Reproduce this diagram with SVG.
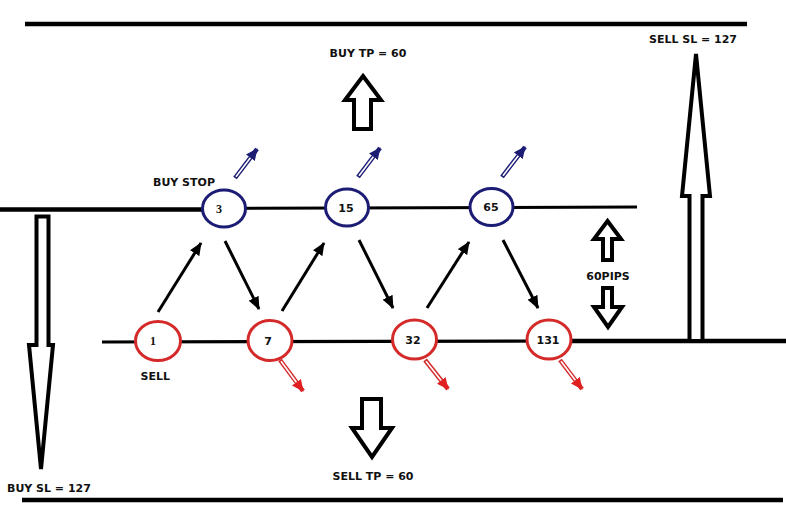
<svg xmlns="http://www.w3.org/2000/svg" width="786" height="524" viewBox="0 0 786 524">
<style>
.lbl{font-family:"DejaVu Sans","Liberation Sans",sans-serif;font-weight:bold;font-size:11px;fill:#111}
.num{font-family:"DejaVu Sans","Liberation Sans",sans-serif;font-weight:bold;font-size:11px;fill:#111;text-anchor:middle}
.numS{font-family:"Liberation Serif","DejaVu Serif",serif;font-weight:bold;font-size:12px;fill:#111;text-anchor:middle}
.rule{stroke:#000;fill:none}
.blk{fill:#fff;stroke:#000;stroke-width:4;stroke-linejoin:miter}
.buy{fill:#fff;stroke:#1c1c74;stroke-width:3}
.sell{fill:#fff;stroke:#d42a2a;stroke-width:3}
.conn{stroke:#000;stroke-width:3;fill:none;marker-end:url(#ah)}
.bOut{stroke:#1c1c74;stroke-width:4.5;marker-end:url(#hb)}
.rOut{stroke:#d42a2a;stroke-width:4.5;marker-end:url(#hr)}
.inn{stroke:#fff;stroke-width:1.6}
</style>
<defs>
<marker id="ah" markerUnits="userSpaceOnUse" markerWidth="13" markerHeight="12" viewBox="0 0 13 12" refX="12" refY="6" orient="auto"><path d="M0,0.5 L13,6 L0,11.5 z" fill="#000"/></marker>
<marker id="hb" markerUnits="userSpaceOnUse" markerWidth="12" markerHeight="11" viewBox="0 0 12 11" refX="11" refY="5.5" orient="auto"><path d="M0,0 L12,5.5 L0,11 z" fill="#1c1c74"/></marker>
<marker id="hr" markerUnits="userSpaceOnUse" markerWidth="12" markerHeight="11" viewBox="0 0 12 11" refX="11" refY="5.5" orient="auto"><path d="M0,0 L12,5.5 L0,11 z" fill="#e02020"/></marker>
</defs>
<rect width="786" height="524" fill="#fff"/>

<g id="levels">
<line class="rule" x1="25" y1="24" x2="747" y2="24" stroke-width="4.5"/>
<line class="rule" x1="22" y1="500" x2="783" y2="500" stroke-width="4.5"/>
<line class="rule" x1="0" y1="209.5" x2="210" y2="209.5" stroke-width="4.5"/>
<line class="rule" x1="210" y1="208.5" x2="637" y2="207" stroke-width="3"/>
<line class="rule" x1="102" y1="342" x2="560" y2="341" stroke-width="3.2"/>
<line class="rule" x1="560" y1="341" x2="786" y2="341" stroke-width="4.5"/>
</g>

<g id="block-arrows">
<polygon id="buy-tp-arrow" class="blk" points="363,76 381,100 371,100 371,129 354,129 354,100 345,100"/>
<polygon id="sell-tp-arrow" class="blk" points="362,399 381,399 381,428 392,428 372,457 352,428 362,428"/>
<polygon id="pips-up" class="blk" points="607.5,221 621,239 612,239 612,260 603,260 603,239 594,239"/>
<polygon id="pips-down" class="blk" points="603,288 612,288 612,307 622,307 608,327 594,307 603,307"/>
<polygon id="sell-sl-arrow" class="blk" points="696,54 710,196 702.5,196 702.5,341 689.5,341 689.5,196 682,196"/>
<polygon id="buy-sl-arrow" class="blk" points="36.5,216.5 48.5,216.5 48.5,345 53,345 41,469 29,345 36.5,345"/>
</g>

<g id="connectors">
<line class="conn" x1="158" y1="312" x2="201" y2="243"/>
<line class="conn" x1="225" y1="241" x2="259" y2="309"/>
<line class="conn" x1="282" y1="311" x2="324" y2="243"/>
<line class="conn" x1="359" y1="240" x2="393" y2="308"/>
<line class="conn" x1="427" y1="308" x2="469" y2="242"/>
<line class="conn" x1="503" y1="240" x2="538" y2="308"/>
</g>

<g id="order-arrows">
<line class="bOut" x1="235" y1="178" x2="257" y2="149"/><line class="inn" x1="236" y1="176.7" x2="250.4" y2="157.8"/>
<line class="bOut" x1="358" y1="177" x2="380" y2="148"/><line class="inn" x1="359" y1="175.7" x2="373.4" y2="156.8"/>
<line class="bOut" x1="502" y1="177" x2="525" y2="147"/><line class="inn" x1="503" y1="175.7" x2="518.3" y2="155.7"/>
<line class="rOut" x1="280" y1="360" x2="303" y2="391"/><line class="inn" x1="281" y1="361.3" x2="296.4" y2="382.2"/>
<line class="rOut" x1="425" y1="360" x2="448" y2="389"/><line class="inn" x1="426" y1="361.3" x2="441.2" y2="380.4"/>
<line class="rOut" x1="560" y1="360" x2="582" y2="389"/><line class="inn" x1="561" y1="361.3" x2="575.4" y2="380.2"/>
</g>

<g id="node-3"><ellipse class="buy" cx="224" cy="208.5" rx="21.5" ry="18.5"/><text class="numS" x="219" y="213">3</text></g>
<g id="node-15"><ellipse class="buy" cx="347" cy="207.5" rx="21.5" ry="18.5"/><text class="num" x="346" y="211.5">15</text></g>
<g id="node-65"><ellipse class="buy" cx="491.5" cy="207" rx="21.5" ry="18.5"/><text class="num" x="491" y="211">65</text></g>
<g id="node-1"><ellipse class="sell" cx="158" cy="341" rx="22.5" ry="19.5"/><text class="numS" x="153" y="345">1</text></g>
<g id="node-7"><ellipse class="sell" cx="270" cy="340.5" rx="22" ry="20"/><text class="num" x="268" y="345">7</text></g>
<g id="node-32"><ellipse class="sell" cx="414.5" cy="339.5" rx="22" ry="19.5"/><text class="num" x="413" y="344">32</text></g>
<g id="node-131"><ellipse class="sell" cx="549" cy="339.5" rx="22" ry="19.5"/><text class="num" x="548" y="344">131</text></g>

<g id="labels">
<text class="lbl" x="153" y="186">BUY STOP</text>
<text class="lbl" x="140.5" y="380">SELL</text>
<text class="lbl" x="368" y="57" text-anchor="middle">BUY TP = 60</text>
<text class="lbl" x="373" y="480" text-anchor="middle">SELL TP = 60</text>
<text class="lbl" x="608" y="280" text-anchor="middle">60PIPS</text>
<text class="lbl" x="693" y="43" text-anchor="middle">SELL SL = 127</text>
<text class="lbl" x="7" y="492">BUY SL = 127</text>
</g>
</svg>
